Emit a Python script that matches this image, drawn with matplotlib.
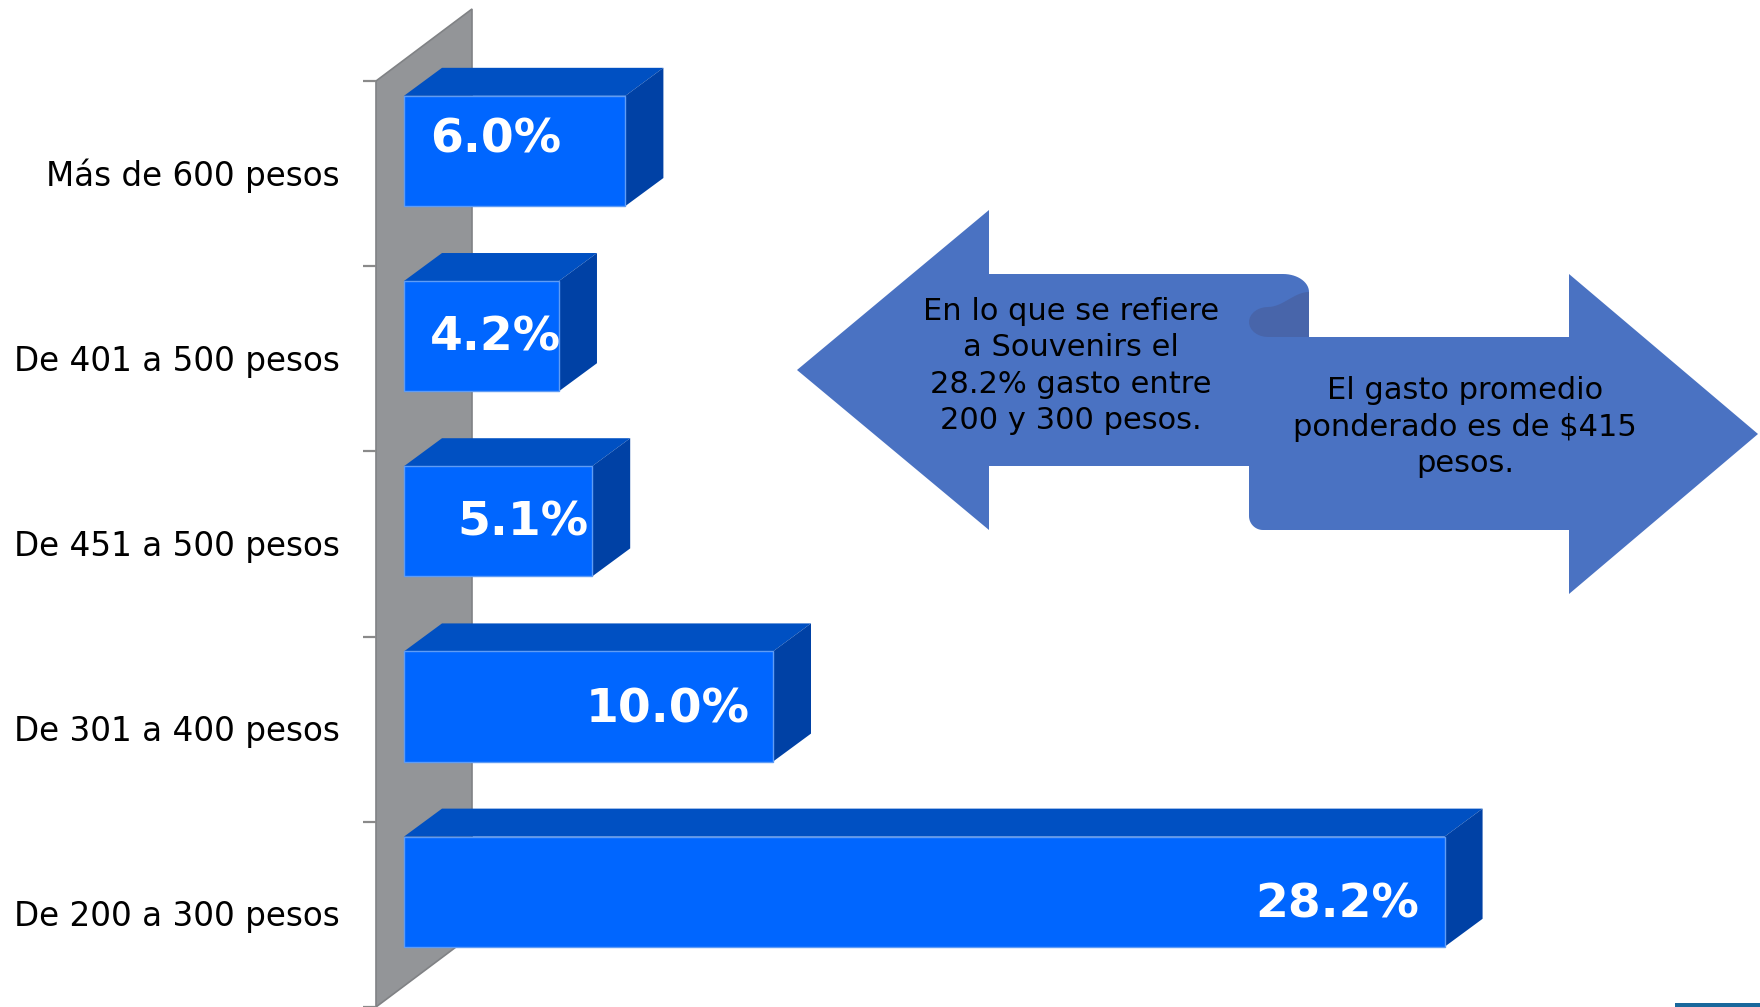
import numpy as np
import matplotlib.pyplot as plt
from matplotlib.patches import Polygon, Rectangle

# spending ranges, listed bottom to top
categories = ["De 200 a 300 pesos", "De 301 a 400 pesos", "De 451 a 500 pesos",
              "De 401 a 500 pesos", "Más de 600 pesos"]
shares = [28.2, 10.0, 5.1, 4.2, 6.0]
share_labels = ["28.2%", "10.0%", "5.1%", "4.2%", "6.0%"]

note_left = "En lo que se refiere\na Souvenirs el\n28.2% gasto entre\n200 y 300 pesos."
note_right = "El gasto promedio\nponderado es de $415\npesos."

# where each value label is centred: distance back from the bar end (% units)
# and shift up from the middle of the front face (row units)
label_back = [2.9, 2.85, 1.88, 1.73, 3.51]
label_lift = [-0.07, -0.02, -0.01, -0.01, 0.06]

FRONT = "#0066ff"
TOP = "#0050c2"
SIDE = "#0041a5"
WALL = "#939598"
ARROW = "#4a72c2"
CURL = "#4865aa"

W, H = 1760, 1007
px_per_pct = 36.9     # horizontal scale of the bars
px_per_cat = 185.2    # height of one category row
x_zero = 404          # where 0% sits, in pixels from the left


def arc(cx, cy, rx, ry, t0, t1, n=16):
    t = np.radians(np.linspace(t0, t1, n))
    return list(zip(cx + rx * np.cos(t), cy + ry * np.sin(t)))


fig = plt.figure(figsize=(W / 100, H / 100), dpi=100)
ax = fig.add_axes([0, 0, 1, 1])
ax.set_xlim(-x_zero / px_per_pct, (W - x_zero) / px_per_pct)
ax.set_ylim(-0.5, H / px_per_cat - 0.5)
ax.axis("off")

n = len(categories)

# grey side wall with its little tick marks
wx0 = -28 / px_per_pct
wdx, wdy = 96 / px_per_pct, 72 / px_per_cat
wall = Polygon([(wx0, -0.5), (wx0, n - 0.5), (wx0 + wdx, n - 0.5 + wdy),
                (wx0 + wdx, -0.5 + wdy)], closed=True,
               fc=WALL, ec="#808285", lw=1.2, zorder=1)
ax.add_patch(wall)
ax.hlines(np.arange(n + 1) - 0.5, wx0 - 13 / px_per_pct, wx0,
          color="#8a8a8a", lw=1.6, zorder=1)

# 3D-looking bars: front face, top face and right side
dx, dy = 38 / px_per_pct, 28 / px_per_cat
lo, hi = -0.175, 0.42
for i, (v, lab) in enumerate(zip(shares, share_labels)):
    y0, y1 = i + lo, i + hi
    ax.add_patch(Polygon([(0, y1), (dx, y1 + dy), (v + dx, y1 + dy), (v, y1)],
                         closed=True, fc=TOP, ec="none", zorder=2))
    ax.add_patch(Polygon([(v, y0), (v + dx, y0 + dy), (v + dx, y1 + dy), (v, y1)],
                         closed=True, fc=SIDE, ec="none", zorder=2))
    ax.add_patch(Rectangle((0, y0), v, y1 - y0, fc=FRONT, ec="#5f9cf5",
                           lw=1, zorder=3))
    ax.text(v - label_back[i], (y0 + y1) / 2 + label_lift[i], lab,
            ha="center", va="center", color="white", fontsize=34,
            fontweight="bold", family="DejaVu Sans", zorder=4)
    ax.text(-64 / px_per_pct, i - 0.013, categories[i], ha="right",
            va="center", fontsize=23.5, color="black", family="DejaVu Sans")

# left-right ribbon callout, drawn in pixel units
ax2 = fig.add_axes([0, 0, 1, 1], zorder=5)
ax2.set_xlim(0, W)
ax2.set_ylim(H, 0)
ax2.axis("off")
ax2.patch.set_alpha(0)

left_arrow = ([(797, 370), (989, 210), (989, 274), (1283, 274)]
              + arc(1283, 292, 26, 18, -90, 0)
              + [(1309, 466), (989, 466), (989, 530)])
right_arrow = ([(1758, 434), (1569, 594), (1569, 530), (1263, 530)]
               + arc(1263, 516, 14, 14, 90, 180)
               + [(1249, 337), (1569, 337), (1569, 274)])
s = np.linspace(0, 1, 16)
curl = (list(zip(1309 - 41 * s, 292 + 15 * (0.5 - 0.5 * np.cos(np.pi * s))))
        + arc(1268, 322, 19, 15, -90, -270)
        + [(1309, 337)])

for pts, col in [(left_arrow, ARROW), (right_arrow, ARROW), (curl, CURL)]:
    ax2.add_patch(Polygon(pts, closed=True, fc=col, ec="none"))

ax2.text(1071, 366, note_left, ha="center", va="center", fontsize=22,
         linespacing=1.33, color="black", family="DejaVu Sans")
ax2.text(1465, 427, note_right, ha="center", va="center", fontsize=22,
         linespacing=1.33, color="black", family="DejaVu Sans")

# sliver of a shape at the lower right edge
ax2.add_patch(Rectangle((1675, 1003), 85, 4, fc="#19689c", ec="none"))

fig.savefig("out.png", dpi=100)
